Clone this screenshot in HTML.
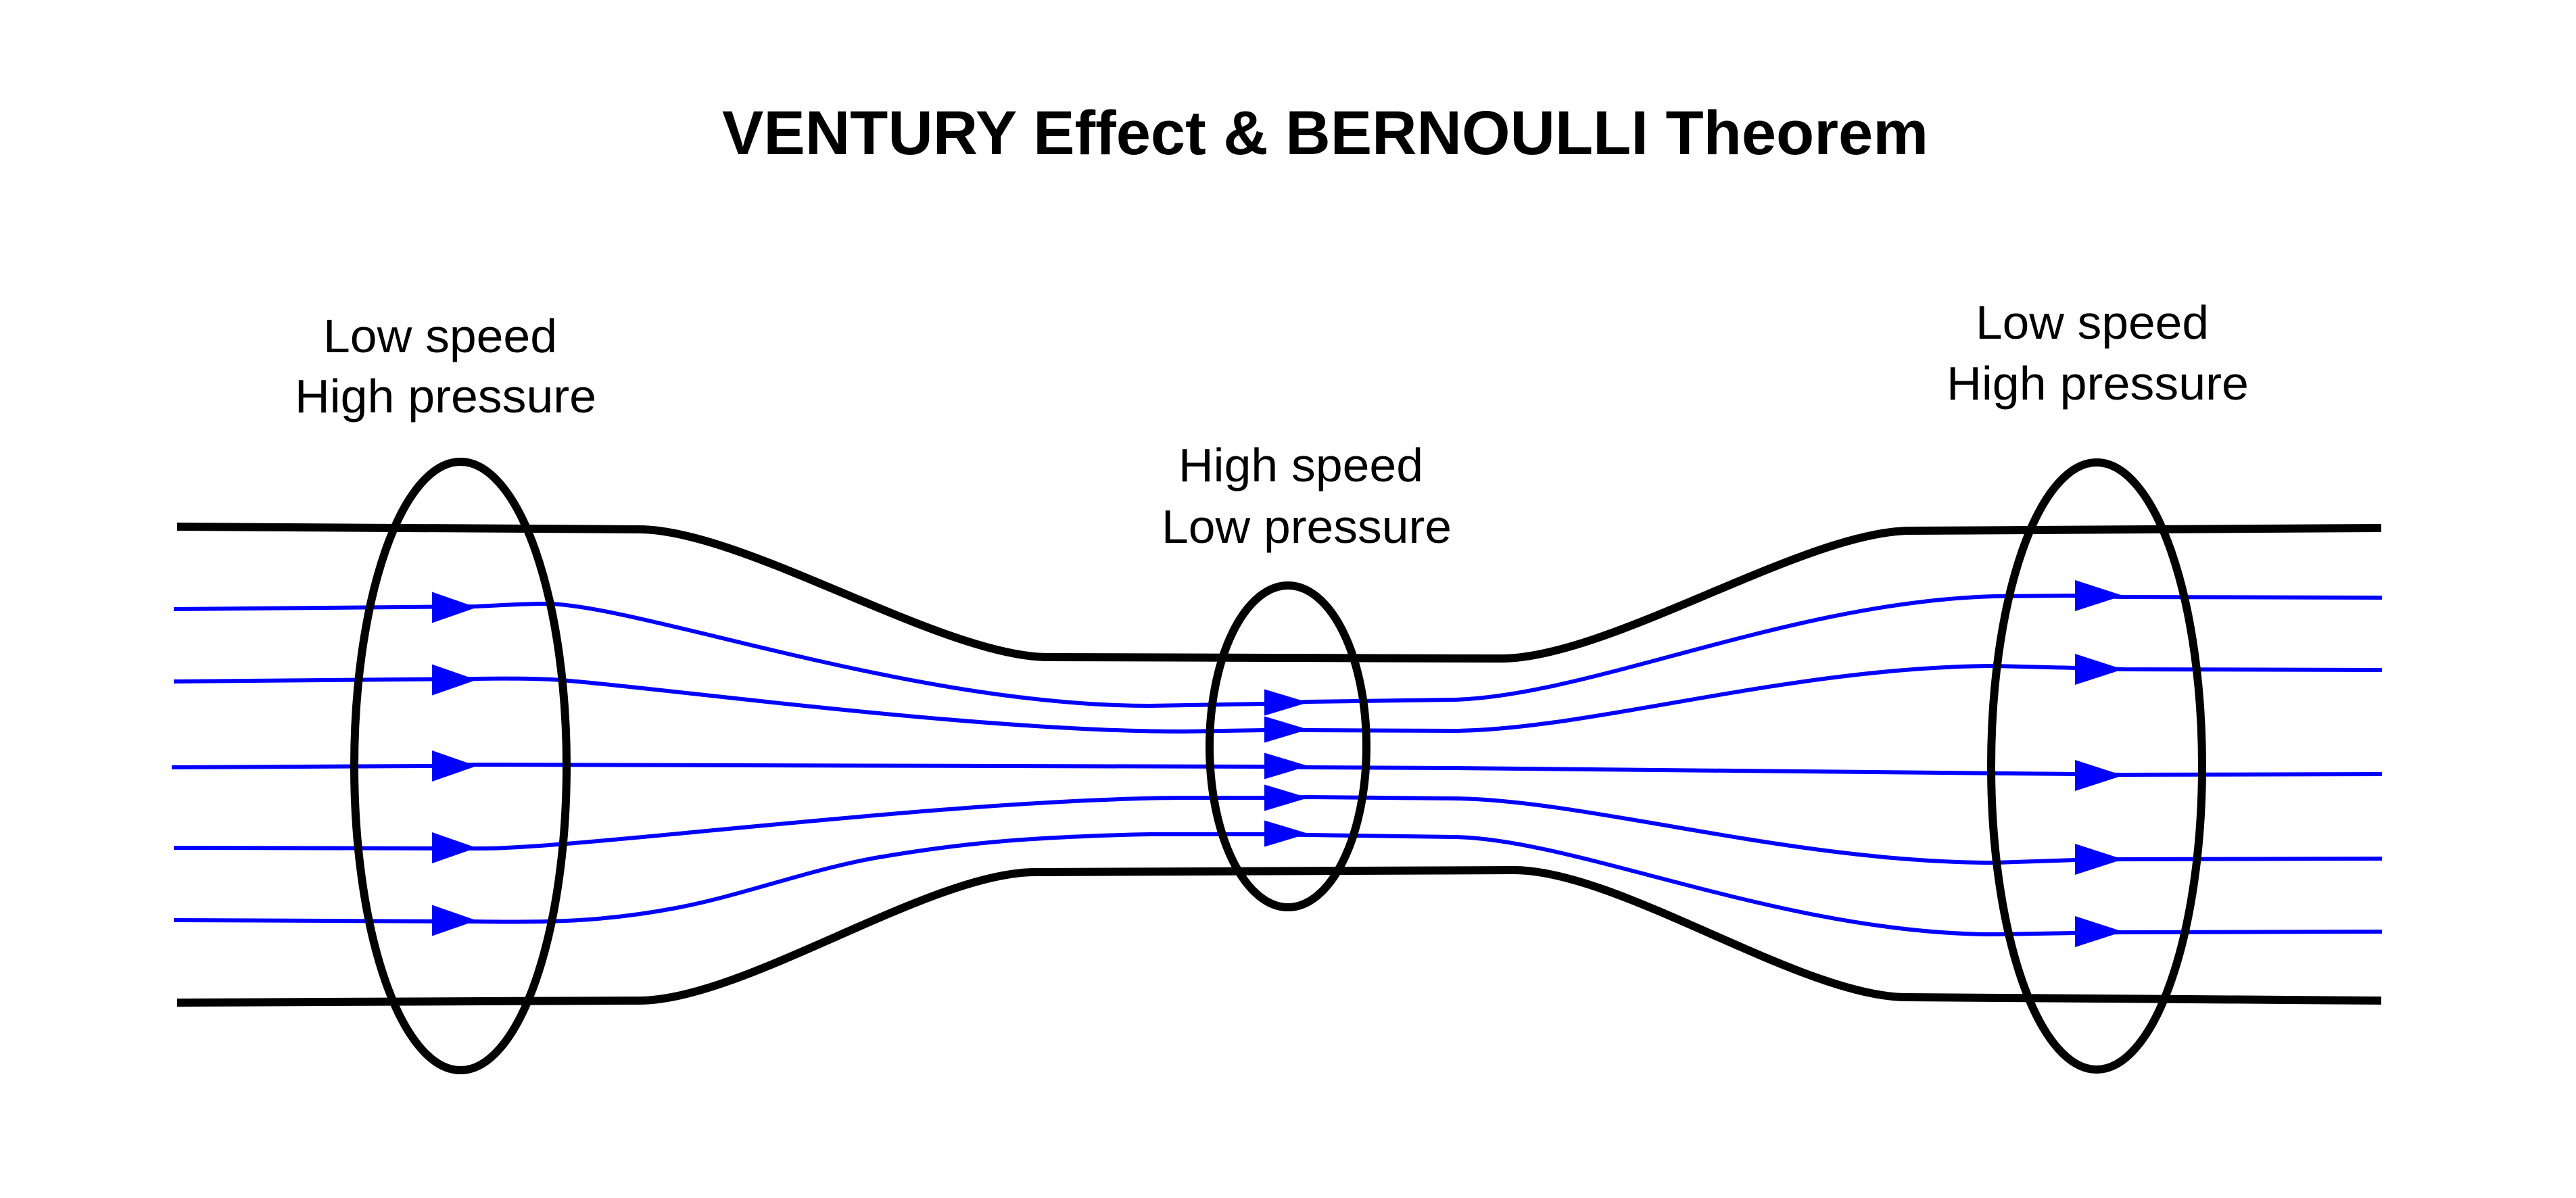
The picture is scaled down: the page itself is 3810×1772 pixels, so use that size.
<!DOCTYPE html>
<html>
<head>
<meta charset="utf-8">
<style>
  html, body { margin: 0; padding: 0; background: #ffffff; }
  body { width: 3810px; height: 1772px; overflow: hidden; }
  svg { display: block; }
  .lbl { font-family: "Liberation Sans", "DejaVu Sans", sans-serif; font-size: 70px; fill: #000; }
  .ttl { font-family: "Liberation Sans", "DejaVu Sans", sans-serif; font-size: 92px; font-weight: bold; fill: #000; }
</style>
</head>
<body>
<svg width="3810" height="1772" viewBox="0 0 3810 1772" xmlns="http://www.w3.org/2000/svg">
  <rect x="0" y="0" width="3810" height="1772" fill="#ffffff"/>

  <!-- Title -->
  <text class="ttl" x="1068" y="228" textLength="1784" lengthAdjust="spacingAndGlyphs">VENTURY Effect &amp; BERNOULLI Theorem</text>

  <!-- Labels -->
  <text class="lbl" x="478" y="521" textLength="346" lengthAdjust="spacingAndGlyphs">Low speed</text>
  <text class="lbl" x="436" y="610" textLength="446" lengthAdjust="spacingAndGlyphs">High pressure</text>

  <text class="lbl" x="1743" y="712" textLength="362" lengthAdjust="spacingAndGlyphs">High speed</text>
  <text class="lbl" x="1718" y="803" textLength="429" lengthAdjust="spacingAndGlyphs">Low pressure</text>

  <text class="lbl" x="2922" y="501" textLength="345" lengthAdjust="spacingAndGlyphs">Low speed</text>
  <text class="lbl" x="2879" y="591" textLength="447" lengthAdjust="spacingAndGlyphs">High pressure</text>

  <!-- Walls -->
  <g fill="none" stroke="#000" stroke-width="12" stroke-linejoin="round">
    <path d="M 262 779 L 945 783 C 1100 783, 1395 972, 1550 972 L 2220 974 C 2380 974, 2670 785, 2826 785 L 3522 781"/>
    <path d="M 262 1483 L 945 1480 C 1100 1480, 1375 1290, 1531 1290 L 2239 1287 C 2395 1287, 2665 1475, 2820 1475 L 3522 1480"/>
  </g>

  <!-- Streamlines -->
  <g fill="none" stroke="#0000ff" stroke-width="6" stroke-linejoin="round">
    <path d="M 257 901 L 705 897 C 745 895, 775 893, 810 893 C 950 896, 1350 1044, 1700 1044 L 1870 1041 L 1935 1038 L 2150 1035 C 2350 1030, 2650 890, 2950 882 L 3068 881 L 3140 883 L 3523 884"/>
    <path d="M 257 1008 L 705 1004 C 760 1003, 800 1004, 831 1006 C 1000 1020, 1450 1082, 1750 1082 L 1870 1080 L 1935 1080 L 2150 1081 C 2350 1080, 2650 986, 2950 985 L 3071 988 L 3140 990 L 3523 991"/>
    <path d="M 254 1135 L 639 1133 L 705 1131 L 1870 1134 L 1935 1135 L 2150 1136 L 3071 1145 L 3140 1146 L 3523 1145"/>
    <path d="M 257 1254 L 705 1255 C 850 1257, 1400 1182, 1750 1180 L 1870 1180 L 1935 1179 L 2150 1181 C 2350 1183, 2650 1276, 2950 1276 L 3071 1272 L 3140 1271 L 3523 1270"/>
    <path d="M 257 1361 L 705 1363 C 820 1365, 900 1362, 1000 1343 S 1200 1285, 1300 1268 S 1500 1238, 1700 1234 L 1870 1234 L 1935 1235 L 2150 1238 C 2330 1240, 2640 1382, 2950 1382 L 3071 1380 L 3140 1379 L 3523 1378"/>
  </g>

  <!-- Arrowheads -->
  <g fill="#0000ff" stroke="none">
    <!-- left -->
    <polygon points="639,875.5 705,898.5 639,921.5"/>
    <polygon points="639,982.6 705,1005.6 639,1028.6"/>
    <polygon points="639,1110 705,1133 639,1156"/>
    <polygon points="639,1231 705,1254 639,1277"/>
    <polygon points="639,1338.5 705,1361.5 639,1384.5"/>
    <!-- middle -->
    <polygon points="1870,1019.5 1935,1039 1870,1058.5"/>
    <polygon points="1870,1059.5 1935,1079 1870,1098.5"/>
    <polygon points="1870,1113.5 1935,1133 1870,1152.5"/>
    <polygon points="1870,1160.5 1935,1180 1870,1199.5"/>
    <polygon points="1870,1213.5 1935,1233 1870,1252.5"/>
    <!-- right -->
    <polygon points="3069,858 3140,881 3069,904"/>
    <polygon points="3069,967 3140,990 3069,1013"/>
    <polygon points="3069,1124 3140,1147 3069,1170"/>
    <polygon points="3069,1248 3140,1271 3069,1294"/>
    <polygon points="3069,1355 3140,1378 3069,1401"/>
  </g>

  <!-- Ellipses -->
  <g fill="none" stroke="#000" stroke-width="12">
    <ellipse cx="681" cy="1133" rx="157" ry="450"/>
    <ellipse cx="1905" cy="1104" rx="116" ry="238"/>
    <ellipse cx="3101" cy="1133" rx="156" ry="449"/>
  </g>
</svg>
</body>
</html>
